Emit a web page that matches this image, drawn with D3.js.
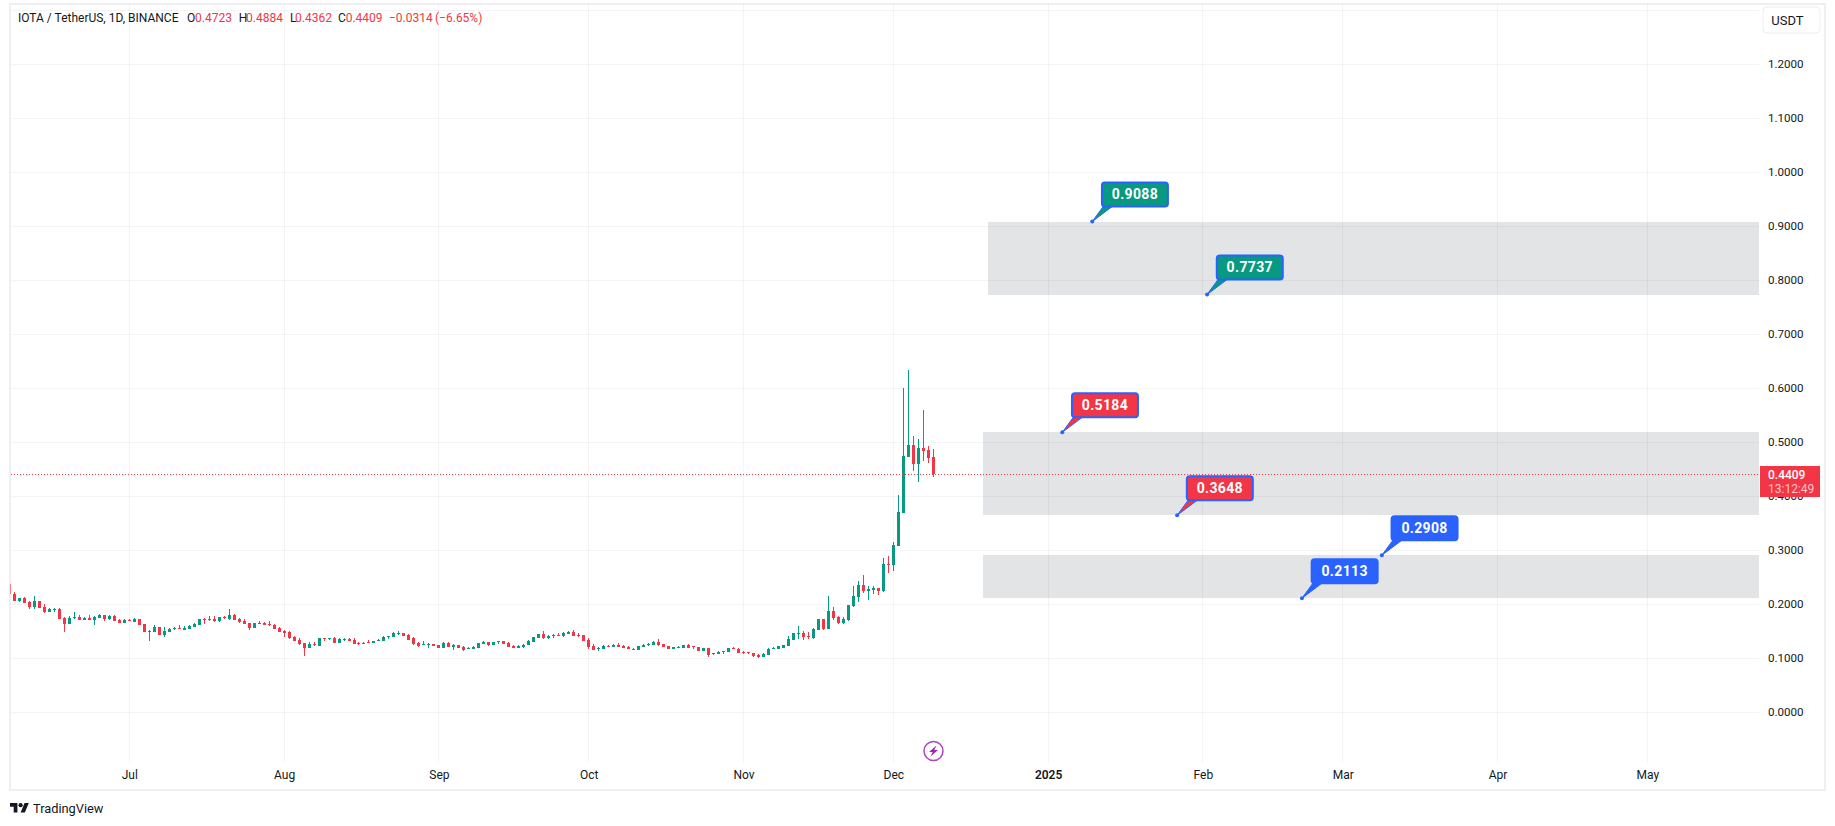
<!DOCTYPE html>
<html>
<head>
<meta charset="utf-8">
<title>IOTA / TetherUS</title>
<script src="https://cdnjs.cloudflare.com/ajax/libs/d3/7.8.5/d3.min.js"></script>
<style>
  html, body { margin: 0; padding: 0; background: #fff; overflow: hidden; }
  svg { display: block; }
  text { font-family: Roboto, "Noto Sans", sans-serif; fill: #131722; }
</style>
</head>
<body>
<div id="chart"></div>
<script>
//! DATA
const firstDay = '2024-06-07';
const opens = [.2376,
  .2185,.2056,.2117,.2043,.1945,.2062,.1951,.1858,.1895,.1914,
  .1747,.1636,.1747,.1766,.1710,.1747,.1710,.1747,.1803,.1729,
  .1784,.1710,.1655,.1716,.1673,.1729,.1636,.1494,.1488,.1581,
  .1433,.1488,.1544,.1562,.1525,.1544,.1581,.1618,.1735,.1710,
  .1729,.1692,.1766,.1729,.1803,.1729,.1692,.1655,.1562,.1636,
  .1655,.1636,.1618,.1562,.1507,.1488,.1396,.1340,.1284,.1192,
  .1266,.1229,.1377,.1359,.1377,.1284,.1340,.1365,.1340,.1284,
  .1284,.1297,.1284,.1322,.1322,.1396,.1396,.1451,
  .1469,.1432,.1376,.1284,.1259,.1265,.1259,.1247,.1191,.1290,
  .1210,.1247,.1216,.1179,.1173,.1191,.1265,.1302,.1247,.1308,
  .1321,.1284,.1228,.1191,.1210,.1247,.1302,.1376,.1450,.1376,
  .1413,.1438,.1413,.1450,.1488,.1432,.1432,.1339,.1228,.1173,
  .1173,.1228,.1210,.1247,.1228,.1210,.1179,.1154,.1210,.1247,
  .1247,.1302,.1265,.1228,.1173,.1191,.1191,.1247,.1228,.1210,
  .1136,.1191,.1080,.1080,.1117,.1117,.1191,.1173,.1117,.1117,
  .1099,.1062,.1025,.1062,.1173,.1173,.1191,.1228,.1339,.1450,
  .1469,.1408,.1377,.1525,.1729,.1543,.1877,.1766,.1654,.1710,
  .1969,.2136,.2358,.2247,.2265,.2302,.2247,.2747,.2728,.3080,
  .3696,.4729,.4951,.4599,.4895,.4858,.4723];
const highs = [.2376,
  .2229,.2117,.2136,.2062,.2154,.2062,.2006,.1932,.1932,.1932,
  .1766,.1784,.1858,.1803,.1766,.1803,.1784,.1821,.1803,.1803,
  .1803,.1729,.1729,.1729,.1747,.1729,.1636,.1525,.1618,.1581,
  .1581,.1562,.1581,.1618,.1599,.1618,.1655,.1729,.1747,.1784,
  .1784,.1766,.1784,.1914,.1821,.1747,.1729,.1655,.1655,.1692,
  .1673,.1692,.1636,.1581,.1525,.1507,.1414,.1377,.1284,.1303,
  .1303,.1377,.1377,.1377,.1396,.1377,.1377,.1377,.1377,.1303,
  .1303,.1340,.1322,.1359,.1414,.1414,.1488,.1507,
  .1469,.1450,.1395,.1302,.1321,.1284,.1265,.1247,.1302,.1302,
  .1265,.1247,.1228,.1210,.1228,.1284,.1321,.1302,.1302,.1321,
  .1321,.1302,.1247,.1247,.1265,.1339,.1395,.1450,.1506,.1432,
  .1450,.1469,.1488,.1506,.1525,.1469,.1432,.1376,.1265,.1210,
  .1247,.1247,.1265,.1284,.1247,.1228,.1191,.1228,.1265,.1284,
  .1321,.1358,.1265,.1228,.1210,.1228,.1247,.1265,.1228,.1210,
  .1191,.1191,.1099,.1136,.1136,.1191,.1210,.1191,.1136,.1117,
  .1099,.1080,.1099,.1191,.1210,.1228,.1247,.1413,.1469,.1599,
  .1506,.1488,.1562,.1729,.1729,.2154,.1951,.1784,.1766,.1988,
  .2339,.2432,.2543,.2339,.2339,.2302,.2858,.2895,.3154,.4024,
  .6006,.6339,.5117,.5062,.5598,.4932,.4884];
const lows = [.2191,
  .2062,.2043,.2025,.1914,.1914,.1932,.1840,.1858,.1858,.1729,
  .1488,.1636,.1729,.1710,.1710,.1710,.1618,.1747,.1692,.1710,
  .1692,.1655,.1655,.1692,.1673,.1618,.1488,.1322,.1488,.1433,
  .1396,.1488,.1525,.1544,.1525,.1544,.1581,.1618,.1636,.1692,
  .1673,.1673,.1729,.1710,.1710,.1655,.1636,.1525,.1562,.1636,
  .1618,.1599,.1544,.1488,.1396,.1359,.1322,.1248,.1044,.1192,
  .1229,.1229,.1322,.1340,.1284,.1284,.1322,.1322,.1266,.1248,
  .1266,.1284,.1284,.1322,.1322,.1359,.1396,.1433,
  .1413,.1339,.1247,.1210,.1247,.1191,.1234,.1191,.1191,.1210,
  .1154,.1191,.1136,.1173,.1173,.1191,.1265,.1228,.1247,.1265,
  .1265,.1210,.1191,.1191,.1191,.1247,.1302,.1376,.1358,.1358,
  .1376,.1413,.1395,.1450,.1413,.1395,.1321,.1173,.1154,.1136,
  .1173,.1210,.1210,.1210,.1191,.1173,.1154,.1154,.1210,.1228,
  .1247,.1228,.1210,.1173,.1173,.1191,.1191,.1191,.1173,.1136,
  .1136,.1025,.1062,.1080,.1080,.1117,.1173,.1099,.1080,.1080,
  .1025,.1006,.1025,.1062,.1173,.1173,.1191,.1228,.1339,.1358,
  .1340,.1358,.1358,.1525,.1525,.1543,.1710,.1636,.1636,.1691,
  .1951,.2043,.2210,.2080,.2191,.2173,.2228,.2580,.2617,.3080,
  .3696,.4729,.4469,.4266,.4654,.4617,.4362];
const closes = [.2191,
  .2062,.2117,.2025,.1945,.2062,.1932,.1858,.1914,.1914,.1729,
  .1636,.1747,.1766,.1710,.1747,.1710,.1766,.1803,.1729,.1784,
  .1692,.1655,.1710,.1698,.1729,.1618,.1488,.1507,.1581,.1433,
  .1507,.1544,.1562,.1544,.1562,.1599,.1636,.1729,.1723,.1729,
  .1692,.1766,.1747,.1803,.1710,.1673,.1636,.1562,.1655,.1655,
  .1618,.1618,.1544,.1488,.1470,.1377,.1322,.1266,.1192,.1266,
  .1248,.1377,.1359,.1377,.1284,.1359,.1359,.1322,.1266,.1266,
  .1291,.1284,.1322,.1340,.1396,.1408,.1470,.1470,
  .1413,.1339,.1265,.1228,.1265,.1271,.1234,.1191,.1284,.1210,
  .1247,.1191,.1154,.1197,.1210,.1284,.1302,.1247,.1302,.1321,
  .1265,.1210,.1191,.1228,.1247,.1321,.1395,.1450,.1376,.1413,
  .1432,.1413,.1469,.1488,.1413,.1413,.1321,.1210,.1154,.1185,
  .1228,.1210,.1247,.1210,.1191,.1173,.1173,.1228,.1247,.1265,
  .1302,.1247,.1210,.1173,.1210,.1210,.1247,.1191,.1210,.1136,
  .1191,.1062,.1092,.1117,.1136,.1191,.1173,.1099,.1099,.1099,
  .1043,.1025,.1080,.1173,.1191,.1228,.1247,.1358,.1469,.1469,
  .1395,.1395,.1543,.1729,.1543,.1877,.1747,.1654,.1729,.1988,
  .2154,.2358,.2247,.2284,.2302,.2247,.2747,.2734,.3098,.3709,
  .4746,.4951,.4599,.4895,.4840,.4710,.4409];

const priceTicks = [0, .1, .2, .3, .4, .5, .6, .7, .8, .9, 1, 1.1, 1.2];
const gridPrices = [0, .1, .2, .3, .4, .5, .6, .7, .8, .9, 1, 1.1, 1.2, 1.3];
const timeTicks = ['2024-07-01','2024-08-01','2024-09-01','2024-10-01','2024-11-01','2024-12-01','2025-01-01','2025-02-01','2025-03-01','2025-04-01','2025-05-01'];
const timeLabels = ['Jul','Aug','Sep','Oct','Nov','Dec','2025','Feb','Mar','Apr','May'];

const zoneStarts = ['2024-12-20','2024-12-19','2024-12-19'];
const zoneTops = [.9088, .5184, .2908];
const zoneBottoms = [.7737, .3648, .2113];

const noteDays = ['2025-01-10','2025-02-02','2025-01-04','2025-01-27','2025-03-09','2025-02-21'];
const notePrices = [.9088, .7737, .5184, .3648, .2908, .2113];
const noteKinds = ['up','up','down','down','plain','plain'];

const lastPrice = .4409;
const countdown = '13:12:49';
const eventDay = '2024-12-09';

const title = 'IOTA / TetherUS, 1D, BINANCE';
const legendKeys = ['O','H','L','C'];
const legendValues = ['0.4723','0.4884','0.4362','0.4409'];
const legendChange = ['−0.0314','(−6.65%)'];

//! CONSTS
const width = 1835;
const height = 826;
const paneLeft = 11;
const paneRight = 1759;
const paneTop = 4;
const paneBottom = 763;
const green = '#089981';
const red = '#f23645';
const blue = '#2962ff';
const parseDay = d3.utcParse('%Y-%m-%d');

//! SVG
const svg = d3.select('#chart')
  .append('svg')
  .attr('width', width)
  .attr('height', height);

svg.append('defs').append('clipPath')
  .attr('id', 'pane')
  .append('rect')
  .attr('x', 10)
  .attr('y', paneTop)
  .attr('width', paneRight - 10)
  .attr('height', 790 - paneTop);

//! SCALES
const xScale = d3.scaleUtc()
  .domain([parseDay('2024-07-01'), parseDay('2025-03-01')])
  .range([129.3, 1342.7]);
const yScale = d3.scaleLinear()
  .domain([0, 1])
  .range([712.3, 172.3]);
const px = (day) => Math.floor(xScale(day));

//! FRAME
svg.append('rect')
  .attr('x', 10).attr('y', 3.5)
  .attr('width', 1815).attr('height', 786.5)
  .attr('fill', 'none')
  .attr('stroke', '#eeeef3')
  .attr('stroke-width', 2)
  .attr('shape-rendering', 'crispEdges');

//! ZONES
svg.append('g').selectAll('rect')
  .data(zoneStarts)
  .join('rect')
  .attr('x', (d) => px(parseDay(d)))
  .attr('width', (d) => paneRight - px(parseDay(d)))
  .attr('y', (d, i) => Math.round(yScale(zoneTops[i])))
  .attr('height', (d, i) => Math.round(yScale(zoneBottoms[i])) - Math.round(yScale(zoneTops[i])))
  .attr('fill', '#e3e4e6');

//! GRID
const grid = svg.append('g')
  .attr('stroke', 'rgba(42,46,57,0.05)')
  .attr('shape-rendering', 'crispEdges');
grid.selectAll('.h')
  .data(gridPrices)
  .join('line')
  .attr('class', 'h')
  .attr('x1', paneLeft).attr('x2', paneRight)
  .attr('y1', (d) => Math.floor(yScale(d)) + .5)
  .attr('y2', (d) => Math.floor(yScale(d)) + .5);
grid.selectAll('.v')
  .data(timeTicks)
  .join('line')
  .attr('class', 'v')
  .attr('x1', (d) => px(parseDay(d)) + .5)
  .attr('x2', (d) => px(parseDay(d)) + .5)
  .attr('y1', paneTop).attr('y2', paneBottom);

//! AXES
const yAxis = d3.axisRight(yScale)
  .tickValues(priceTicks)
  .tickFormat(d3.format('.4f'))
  .tickSize(0)
  .tickPadding(0);
const yAxisG = svg.append('g')
  .attr('transform', 'translate(1768,-1)')
  .call(yAxis);
yAxisG.select('.domain').remove();
yAxisG.selectAll('text')
  .attr('font-size', 11.6)
  .style('font-family', 'Roboto')
  .attr('fill', '#131722');

const xAxis = d3.axisBottom(xScale)
  .tickValues(timeTicks.map(parseDay))
  .tickFormat((d, i) => timeLabels[i])
  .tickSize(0)
  .tickPadding(0);
const xAxisG = svg.append('g')
  .attr('transform', 'translate(0,770)')
  .call(xAxis);
xAxisG.select('.domain').remove();
xAxisG.selectAll('text')
  .attr('font-size', 12)
  .style('font-family', 'Roboto')
  .attr('font-weight', (d, i) => timeLabels[i] === '2025' ? 600 : 400);

//! CANDLES
const days = opens.map((o, i) => d3.utcDay.offset(parseDay(firstDay), i));
const candleColor = (i) => closes[i] >= opens[i] ? green : red;
const candles = svg.append('g')
  .attr('clip-path', 'url(#pane)')
  .attr('shape-rendering', 'crispEdges');
candles.selectAll('.wick')
  .data(days)
  .join('rect')
  .attr('class', 'wick')
  .attr('x', (d) => px(d))
  .attr('width', 1)
  .attr('y', (d, i) => Math.round(yScale(highs[i])))
  .attr('height', (d, i) => Math.round(yScale(lows[i])) - Math.round(yScale(highs[i])))
  .attr('fill', (d, i) => candleColor(i));
candles.selectAll('.body')
  .data(days)
  .join('rect')
  .attr('class', 'body')
  .attr('x', (d) => px(d) - 1)
  .attr('width', 3)
  .attr('y', (d, i) => Math.round(yScale(Math.max(opens[i], closes[i]))))
  .attr('height', (d, i) => Math.max(1, Math.round(yScale(Math.min(opens[i], closes[i]))) - Math.round(yScale(Math.max(opens[i], closes[i])))))
  .attr('fill', (d, i) => candleColor(i))
  .attr('opacity', (d, i) => i === 0 ? .6 : 1);

//! LAST PRICE LINE
svg.append('line')
  .attr('x1', paneLeft).attr('x2', paneRight)
  .attr('y1', Math.floor(yScale(lastPrice)) + .5)
  .attr('y2', Math.floor(yScale(lastPrice)) + .5)
  .attr('stroke', red)
  .attr('stroke-dasharray', '1 2')
  .attr('shape-rendering', 'crispEdges');

//! NOTES
const noteFill = { up: green, down: red, plain: blue };
const notes = svg.append('g').selectAll('g')
  .data(noteDays)
  .join('g')
  .attr('transform', (d, i) => `translate(${xScale(parseDay(d)) - .8},${yScale(notePrices[i])})`);
notes.append('path')
  .attr('d', 'M0 0L11 -15L20 -15Z')
  .attr('fill', (d, i) => noteFill[noteKinds[i]])
  .attr('stroke', blue)
  .attr('stroke-width', 1);
notes.append('rect')
  .attr('x', 9.7).attr('y', -39)
  .attr('width', 66).attr('height', 24)
  .attr('rx', 3)
  .attr('fill', (d, i) => noteFill[noteKinds[i]])
  .attr('stroke', blue)
  .attr('stroke-width', 2);
notes.append('circle')
  .attr('r', 2)
  .attr('fill', blue);
notes.append('text')
  .attr('x', 42.7).attr('y', -22.5)
  .attr('text-anchor', 'middle')
  .attr('font-size', 14)
  .attr('font-weight', 700)
  .attr('letter-spacing', .35)
  .style('fill', '#fff')
  .text((d, i) => notePrices[i].toFixed(4));

//! PRICE TAG
const lastY = Math.floor(yScale(lastPrice));
svg.append('rect')
  .attr('x', 1760).attr('y', lastY - 8)
  .attr('width', 60).attr('height', 31)
  .attr('fill', red);
svg.append('text')
  .attr('x', 1768).attr('y', lastY + 4.5)
  .attr('font-size', 12)
  .attr('font-weight', 500)
  .style('fill', '#fff')
  .text(d3.format('.4f')(lastPrice));
svg.append('text')
  .attr('x', 1768).attr('y', lastY + 18.5)
  .attr('font-size', 12)
  .style('fill', '#fcc3c9')
  .text(countdown);

//! CURRENCY BUTTON
svg.append('rect')
  .attr('x', 1763).attr('y', 7)
  .attr('width', 57).attr('height', 26)
  .attr('rx', 4)
  .attr('fill', '#fff')
  .attr('stroke', '#eeeef3')
  .attr('stroke-width', 1);
svg.append('text')
  .attr('x', 1787.5).attr('y', 25)
  .attr('text-anchor', 'middle')
  .attr('font-size', 13)
  .text('USDT');

//! LEGEND
svg.append('text')
  .attr('x', 18).attr('y', 22)
  .attr('font-size', 12)
  .text(title);
const legendKeyX = [187, 238.7, 290, 338];
const legendValX = [195, 246, 295, 345.7];
svg.selectAll('.key')
  .data(legendKeys)
  .join('text')
  .attr('class', 'key')
  .attr('x', (d, i) => legendKeyX[i]).attr('y', 22)
  .attr('font-size', 12)
  .text((d) => d);
svg.selectAll('.val')
  .data(legendValues)
  .join('text')
  .attr('class', 'val')
  .attr('x', (d, i) => legendValX[i]).attr('y', 22)
  .attr('font-size', 12)
  .style('fill', red)
  .text((d) => d);
svg.selectAll('.chg')
  .data(legendChange)
  .join('text')
  .attr('class', 'chg')
  .attr('x', (d, i) => [389, 435][i]).attr('y', 22)
  .attr('font-size', 12)
  .style('fill', red)
  .text((d) => d);

//! EVENT ICON
const icon = svg.append('g')
  .attr('transform', `translate(${px(parseDay(eventDay)) + .5},751)`);
icon.append('circle')
  .attr('r', 9.5)
  .attr('fill', '#fff')
  .attr('stroke', '#ab47bc')
  .attr('stroke-width', 1.5);
icon.append('path')
  .attr('d', 'M3 -5.5L-4.5 1L-.8 1L-3 5.5L4.5 -1L.8 -1Z')
  .attr('fill', '#9c27b0');

//! LOGO
const logo = svg.append('g')
  .attr('transform', 'translate(10,800.9) scale(.53)')
  .attr('fill', '#131722');
logo.append('path').attr('d', 'M14 22H7V11H0V4h14v18zM28 22h-8l7.5-18h8L28 22z');
logo.append('circle').attr('cx', 20).attr('cy', 8).attr('r', 4);
svg.append('text')
  .attr('x', 33).attr('y', 813)
  .attr('font-size', 12.8)
  .text('TradingView');
</script>
</body>
</html>
